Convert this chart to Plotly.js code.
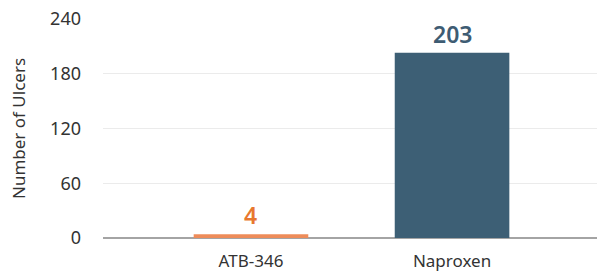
<!DOCTYPE html>
<html><head><meta charset="utf-8">
<script src="https://cdn.plot.ly/plotly-3.0.1.min.js"></script>
<style>body{margin:0;background:#fff}#c{width:597px;height:273px}</style>
</head><body><div id="c"></div>
<script>
const categories = ["ATB-346", "Naproxen"];
const ulcers = [4, 203];
const barColors = ["#EE8C5A", "#3D5F75"];
const labelColors = ["#E8782F", "#3E5C73"];
const yTicks = [0, 60, 120, 180, 240];

const trace = {
  type: "bar",
  x: categories,
  y: ulcers,
  width: 0.57,
  marker: {color: barColors},
  hoverinfo: "none"
};
const annotations = categories.map((c, i) => ({
  x: c, y: ulcers[i], xref: "x", yref: "y",
  text: String(ulcers[i]),
  showarrow: false,
  yanchor: "bottom",
  yshift: 1,
  font: {family: "Noto Sans", size: 23, color: labelColors[i], weight: 600}
}));
const layout = {
  width: 597, height: 273,
  margin: {l: 103, r: 0, t: 19, b: 35},
  paper_bgcolor: "#fff", plot_bgcolor: "#fff",
  showlegend: false,
  font: {family: "Noto Sans", color: "#333"},
  annotations: annotations,
  xaxis: {
    type: "category",
    range: [-0.736, 1.721],
    showgrid: false,
    showline: false,
    zeroline: false,
    ticks: "",
    ticklabelstandoff: 11,
    tickfont: {size: 17, color: "#333"},
    fixedrange: true
  },
  yaxis: {
    range: [0, 240],
    tickvals: yTicks,
    ticktext: yTicks.map(String),
    showgrid: true,
    gridcolor: "#ebebeb",
    gridwidth: 1,
    zeroline: true,
    zerolinecolor: "#a4a4a4",
    zerolinewidth: 1.5,
    ticks: "",
    ticklabelstandoff: 21,
    tickfont: {size: 18, color: "#333"},
    title: {text: "Number of Ulcers", font: {size: 17, color: "#333"}, standoff: 20},
    fixedrange: true
  }
};
Plotly.newPlot("c", [trace], layout, {displayModeBar: false, staticPlot: true});
</script></body></html>
